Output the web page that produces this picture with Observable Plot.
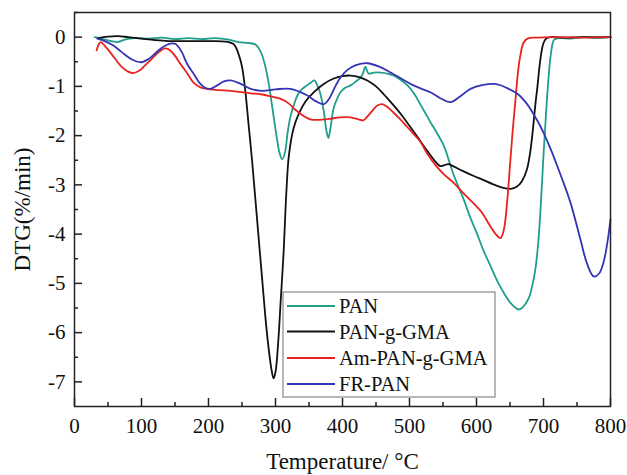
<!DOCTYPE html>
<html>
<head>
<meta charset="utf-8">
<script src="https://cdn.jsdelivr.net/npm/d3@7"></script>
<script src="https://cdn.jsdelivr.net/npm/@observablehq/plot@0.6"></script>
<style>
  html, body { margin: 0; padding: 0; background: #fff; }
  #chart { width: 627px; height: 475px; }
</style>
</head>
<body>
<div id="chart"></div>
<script>
// ---- data ----
const seriesNames = ["PAN", "PAN-g-GMA", "Am-PAN-g-GMA", "FR-PAN"];
const seriesColors = ["#1f9e8c", "#111111", "#e8231f", "#3434b4"];

const panT = [30,40,55,64,75,90,110,130,150,170,190,210,230,245,260,270,278,284,290,296,302,306,310,314,318,322,328,334,340,347,353,358,363,367,372,376,379,382,387,392,397,404,412,420,427,431,434,439,447,457,467,476,487,497,507,516,524,531,539,551,566,581,591,601,611,621,631,641,651,657,663,670,678,684,688,692,696,700,704,708,712,716,725,740,760,780,800];
const panV = [0,-0.03,-0.08,-0.1,-0.05,-0.02,-0.03,-0.01,-0.04,-0.02,-0.04,-0.02,-0.05,-0.1,-0.12,-0.15,-0.3,-0.55,-0.95,-1.5,-2.05,-2.35,-2.48,-2.35,-1.95,-1.63,-1.35,-1.15,-1.05,-0.98,-0.92,-0.88,-1.0,-1.15,-1.5,-1.9,-2.05,-1.85,-1.43,-1.25,-1.12,-1.03,-0.98,-0.9,-0.82,-0.72,-0.6,-0.74,-0.72,-0.72,-0.74,-0.78,-0.87,-0.98,-1.15,-1.36,-1.55,-1.72,-1.9,-2.2,-2.8,-3.3,-3.67,-4.0,-4.35,-4.65,-4.95,-5.2,-5.4,-5.48,-5.53,-5.47,-5.3,-5.0,-4.7,-4.2,-3.4,-2.4,-1.5,-0.75,-0.25,-0.05,-0.02,-0.03,0,-0.02,0];

const gmaT = [35,50,65,80,100,120,140,170,200,225,238,245,250,255,260,265,270,275,280,285,290,294,297,300,304,308,312,316,320,327,335,345,357,372,387,400,412,425,437,450,461,474,487,500,512,527,540,546,552,558,565,580,596,610,625,640,651,660,668,675,680,684,688,691,694,697,700,704,710,730,760,800];
const gmaV = [-0.02,0.01,0.02,0,-0.03,-0.06,-0.08,-0.08,-0.08,-0.09,-0.15,-0.35,-0.6,-1.1,-1.8,-2.5,-3.3,-4.1,-4.9,-5.7,-6.35,-6.75,-6.93,-6.8,-6.2,-5.3,-4.4,-3.2,-2.4,-1.85,-1.55,-1.3,-1.12,-0.95,-0.84,-0.79,-0.78,-0.81,-0.88,-1.0,-1.15,-1.35,-1.56,-1.8,-2.03,-2.32,-2.55,-2.62,-2.6,-2.58,-2.62,-2.72,-2.82,-2.9,-2.99,-3.06,-3.08,-3.04,-2.92,-2.7,-2.35,-1.9,-1.35,-1.0,-0.6,-0.3,-0.12,-0.03,0,-0.01,0,0];

const amT = [33,36,39,48,59,70,80,88,97,105,113,122,130,136,143,150,158,168,178,188,198,210,222,240,263,278,292,307,320,330,342,352,365,380,397,412,424,431,438,446,452,459,467,476,487,497,507,516,527,540,551,566,581,596,608,621,630,636,641,646,650,654,658,662,666,670,676,690,720,760,800];
const amV = [-0.27,-0.15,-0.1,-0.22,-0.41,-0.6,-0.7,-0.73,-0.68,-0.58,-0.47,-0.35,-0.26,-0.23,-0.27,-0.38,-0.54,-0.73,-0.93,-1.02,-1.05,-1.07,-1.08,-1.1,-1.14,-1.16,-1.2,-1.25,-1.35,-1.48,-1.6,-1.67,-1.68,-1.66,-1.63,-1.63,-1.67,-1.69,-1.6,-1.47,-1.39,-1.36,-1.42,-1.53,-1.68,-1.83,-1.98,-2.12,-2.38,-2.62,-2.78,-2.96,-3.18,-3.38,-3.56,-3.85,-4.02,-4.08,-3.9,-3.3,-2.6,-1.9,-1.3,-0.7,-0.33,-0.12,-0.03,-0.01,0,-0.01,0];

const frT = [34,45,58,70,85,99,110,118,130,143,151,160,168,178,188,195,203,213,223,233,245,263,280,300,322,347,360,372,380,390,397,407,420,437,455,472,490,506,520,531,546,561,576,591,610,628,645,661,675,685,695,703,713,725,740,755,765,775,783,790,795,800];
const frV = [-0.03,-0.08,-0.17,-0.3,-0.45,-0.51,-0.45,-0.36,-0.22,-0.13,-0.14,-0.3,-0.54,-0.75,-0.95,-1.03,-1.05,-0.98,-0.9,-0.88,-0.93,-1.05,-1.09,-1.06,-1.05,-1.18,-1.3,-1.36,-1.25,-0.98,-0.82,-0.67,-0.57,-0.53,-0.6,-0.72,-0.86,-0.98,-1.06,-1.12,-1.24,-1.32,-1.2,-1.05,-0.97,-0.95,-1.03,-1.15,-1.35,-1.56,-1.8,-2.03,-2.35,-2.78,-3.35,-4.1,-4.6,-4.86,-4.8,-4.55,-4.2,-3.7];

const xMajorTicks = [0,100,200,300,400,500,600,700,800];
const xMinorTicks = [50,150,250,350,450,550,650,750];
const yMajorTicks = [0,-1,-2,-3,-4,-5,-6,-7];
const yMinorTicks = [0.5,-0.5,-1.5,-2.5,-3.5,-4.5,-5.5,-6.5];
const xTitle = "Temperature/ \u00B0C";
const yTitle = "DTG(%/min)";

// ---- build tidy table ----
const raw = [[panT, panV], [gmaT, gmaV], [amT, amV], [frT, frV]];
const rows = [];
raw.forEach(([T, V], i) => T.forEach((t, j) => rows.push({T: t, v: V[j], s: seriesNames[i]})));

const W = 627, H = 475;
const mL = 74, mR = 17, mT = 12, mB = 69;
const frameW = W - mL - mR, frameH = H - mT - mB;
const font = "'Liberation Serif', 'Times New Roman', serif";

const plot = Plot.plot({
  width: W, height: H,
  marginLeft: mL, marginRight: mR, marginTop: mT, marginBottom: mB,
  style: {fontFamily: font, fontSize: "21px", background: "#fff", color: "#111"},
  x: {domain: [0, 800], label: null},
  y: {domain: [-7.5, 0.5], label: null},
  color: {domain: seriesNames, range: seriesColors},
  marks: [
    Plot.line(rows, {x: "T", y: "v", z: "s", stroke: "s", strokeWidth: 1.8, curve: "catmull-rom"}),
    Plot.frame({stroke: "#222", strokeWidth: 1.5}),
    Plot.axisX(xMajorTicks, {tickSize: 0, tickPadding: 12, tickFormat: d => String(d), fontSize: 21, label: null}),
    Plot.axisY(yMajorTicks, {tickSize: 0, tickPadding: 9, tickFormat: d => String(d), fontSize: 21, label: null}),
    Plot.tickX(xMajorTicks, {x: d => d, insetTop: frameH - 8, stroke: "#222", strokeWidth: 1.5}),
    Plot.tickX(xMinorTicks, {x: d => d, insetTop: frameH - 4, stroke: "#222", strokeWidth: 1.5}),
    Plot.tickY(yMajorTicks, {y: d => d, insetRight: frameW - 8, stroke: "#222", strokeWidth: 1.5}),
    Plot.tickY(yMinorTicks, {y: d => d, insetRight: frameW - 4, stroke: "#222", strokeWidth: 1.5}),
    Plot.text([xTitle], {frameAnchor: "bottom", dy: 55, fontSize: 23, lineAnchor: "middle"}),
    Plot.text([yTitle], {frameAnchor: "left", dx: -52, rotate: -90, fontSize: 23, lineAnchor: "middle", textAnchor: "middle"})
  ]
});

document.getElementById("chart").appendChild(plot);

// ---- legend (inside the plot area, lower middle) ----
const svg = d3.select(plot);
const lg = svg.append("g").attr("font-family", font).attr("font-size", 20.5).attr("text-anchor", "start");
const box = {x: 283, y: 292, w: 212, h: 105};
lg.append("rect").attr("x", box.x).attr("y", box.y).attr("width", box.w).attr("height", box.h)
  .attr("fill", "#fff").attr("stroke", "#888").attr("stroke-width", 1.2);
const entryY = [306, 331.5, 358, 384];
seriesNames.forEach((name, i) => {
  lg.append("line").attr("x1", 287).attr("x2", 335).attr("y1", entryY[i]).attr("y2", entryY[i])
    .attr("stroke", seriesColors[i]).attr("stroke-width", 2);
  lg.append("text").attr("x", 339).attr("y", entryY[i]).attr("dy", "0.35em")
    .attr("text-anchor", "start").attr("fill", "#111").text(name);
});
</script>
</body>
</html>
